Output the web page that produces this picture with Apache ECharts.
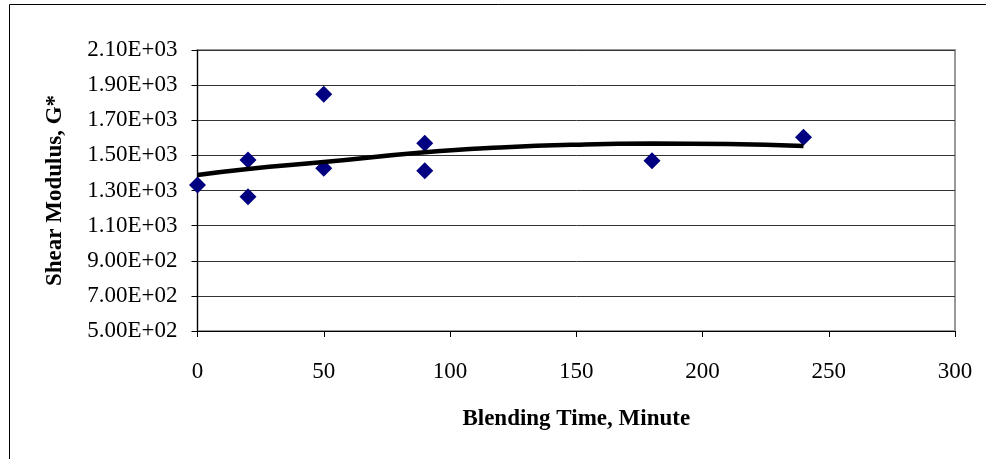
<!DOCTYPE html>
<html>
<head>
<meta charset="utf-8">
<script src="https://cdn.jsdelivr.net/npm/echarts@6/dist/echarts.min.js"></script>
<style>
html,body{margin:0;padding:0;background:#fff;}
#chart{width:986px;height:459px;}
</style>
</head>
<body>
<div id="chart"></div>
<script>
// Data
const timeMin = [0, 20, 20, 50, 50, 90, 90, 180, 240];
const shearG = [1331, 1474, 1265, 1848, 1426, 1569, 1413, 1470, 1603];
const trendTime = [0, 20, 50, 90, 120, 150, 180, 210, 240];
const trendG = [1388, 1422, 1462, 1518, 1545, 1561, 1567, 1565, 1553];
const yTicks = [500, 700, 900, 1100, 1300, 1500, 1700, 1900, 2100];
const yTickLabels = ['5.00E+02', '7.00E+02', '9.00E+02', '1.10E+03', '1.30E+03', '1.50E+03', '1.70E+03', '1.90E+03', '2.10E+03'];
const xTickLabels = ['0', '50', '100', '150', '200', '250', '300'];

const FONT = 'Liberation Serif';
const chart = echarts.init(document.getElementById('chart'));
chart.setOption({
  animation: false,
  backgroundColor: '#fff',
  graphic: [{
    type: 'rect',
    shape: {x: 9.5, y: 4.5, width: 1000, height: 500},
    style: {fill: 'none', stroke: '#000', lineWidth: 1},
    silent: true
  }],
  grid: {
    left: 197.5, right: 31, top: 50, bottom: 128,
    show: true, borderColor: '#999', borderWidth: 2, backgroundColor: 'transparent'
  },
  xAxis: {
    type: 'value', min: 0, max: 300, interval: 50,
    name: 'Blending Time, Minute', nameLocation: 'middle', nameGap: 77,
    nameTextStyle: {fontFamily: FONT, fontSize: 23, fontWeight: 'bold', color: '#000'},
    axisLine: {show: true, onZero: false, lineStyle: {color: '#000', width: 1}},
    axisTick: {show: true, length: 6, lineStyle: {color: '#000'}},
    axisLabel: {
      fontFamily: FONT, fontSize: 23, color: '#000', margin: 29,
      formatter: function (v) { return xTickLabels[Math.round(v / 50)]; }
    },
    splitLine: {show: false}
  },
  yAxis: {
    type: 'value', min: 500, max: 2100, interval: 200,
    name: 'Shear Modulus, G*', nameLocation: 'middle', nameGap: 131,
    nameTextStyle: {fontFamily: FONT, fontSize: 23, fontWeight: 'bold', color: '#000'},
    axisLine: {show: true, onZero: false, lineStyle: {color: '#000', width: 1}},
    axisTick: {show: true, length: 6, lineStyle: {color: '#000'}},
    axisLabel: {
      fontFamily: FONT, fontSize: 23, color: '#000', margin: 20,
      formatter: function (v) { const i = yTicks.indexOf(Math.round(v)); return i >= 0 ? yTickLabels[i] : ''; }
    },
    splitLine: {show: true, lineStyle: {color: '#333', width: 1}}
  },
  series: [{
    type: 'scatter',
    data: timeMin.map((t, i) => [t, shearG[i]]),
    symbol: 'diamond', symbolSize: 17,
    itemStyle: {color: '#000080', opacity: 1},
    z: 2
  }, {
    type: 'line',
    data: trendTime.map((t, i) => [t, trendG[i]]),
    smooth: true, showSymbol: false, symbol: 'none',
    lineStyle: {color: '#000', width: 4.5},
    z: 3
  }]
});
</script>
</body>
</html>
